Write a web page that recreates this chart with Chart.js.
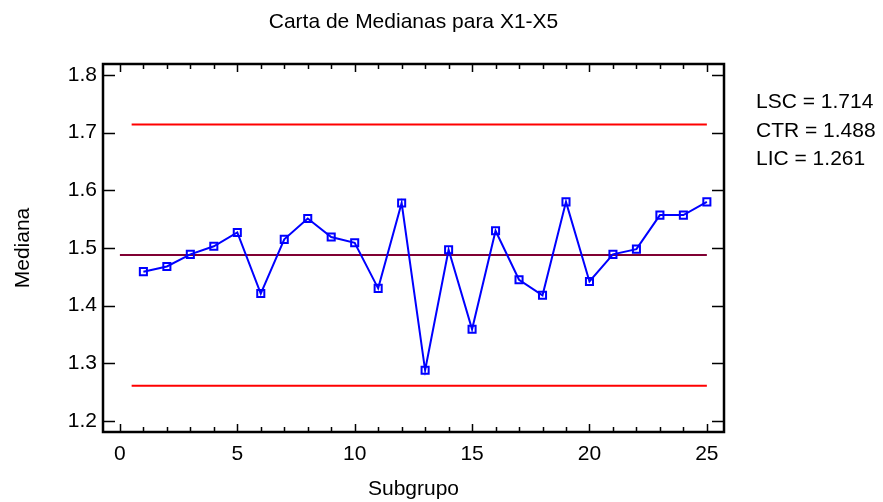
<!DOCTYPE html>
<html>
<head>
<meta charset="utf-8">
<script src="https://cdn.jsdelivr.net/npm/chart.js@4"></script>
<style>
html,body{margin:0;padding:0;background:#fff;}
#wrap{width:883px;height:502px;position:relative;}
</style>
</head>
<body>
<div id="wrap"><canvas id="c" width="883" height="502"></canvas></div>
<script>
// ---- data ----
const subgroups = [1,2,3,4,5,6,7,8,9,10,11,12,13,14,15,16,17,18,19,20,21,22,23,24,25];
const medians = [1.459,1.468,1.489,1.503,1.527,1.421,1.515,1.551,1.519,1.509,1.430,1.578,
                 1.288,1.497,1.359,1.530,1.445,1.418,1.580,1.442,1.489,1.498,1.557,1.557,1.580];
const lsc = 1.714;
const ctr = 1.488;
const lic = 1.261;
const limitStartX = [0.5, 25];
const centerStartX = [0, 25];
const xTicks = [0,5,10,15,20,25];
const xMinorTicks = [0,1,2,3,4,5,6,7,8,9,10,11,12,13,14,15,16,17,18,19,20,21,22,23,24,25];
const yTicks = [1.2,1.3,1.4,1.5,1.6,1.7,1.8];
const titleText = 'Carta de Medianas para X1-X5';
const xTitle = 'Subgrupo';
const yTitle = 'Mediana';
const legendLines = ['LSC = ' + lsc.toFixed(3), 'CTR = ' + ctr.toFixed(3), 'LIC = ' + lic.toFixed(3)];

const FONT = '"Liberation Sans", Arial, sans-serif';

const framePlugin = {
  id: 'frame',
  afterDraw(chart) {
    const ctx = chart.ctx;
    const a = chart.chartArea;
    const xs = chart.scales.x, ys = chart.scales.y;
    ctx.save();
    ctx.strokeStyle = '#000';
    // inward ticks
    ctx.lineWidth = 1.5;
    ctx.beginPath();
    xMinorTicks.forEach(v => {
      const px = Math.round(xs.getPixelForValue(v)) + 0.5;
      const major = xTicks.includes(v);
      const len = major ? 8 : 5;
      ctx.moveTo(px, a.bottom); ctx.lineTo(px, a.bottom - len);
      ctx.moveTo(px, a.top); ctx.lineTo(px, a.top + len);
    });
    yTicks.forEach(v => {
      const py = Math.round(ys.getPixelForValue(v)) + 0.5;
      ctx.moveTo(a.left, py); ctx.lineTo(a.left + 12, py);
      ctx.moveTo(a.right, py); ctx.lineTo(a.right - 12, py);
    });
    ctx.stroke();
    // frame
    ctx.lineWidth = 2.5;
    ctx.strokeRect(a.left, a.top, a.right - a.left, a.bottom - a.top);
    // texts
    ctx.fillStyle = '#000';
    ctx.font = '21px ' + FONT;
    ctx.textAlign = 'center';
    ctx.textBaseline = 'alphabetic';
    ctx.fillText(titleText, (a.left + a.right) / 2, 28);
    ctx.font = '21px ' + FONT;
    ctx.fillText(xTitle, (a.left + a.right) / 2, 495);
    ctx.save();
    ctx.translate(29, (a.top + a.bottom) / 2);
    ctx.rotate(-Math.PI / 2);
    ctx.fillText(yTitle, 0, 0);
    ctx.restore();
    ctx.textAlign = 'left';
    const baseY = [108, 137, 165];
    legendLines.forEach((t, i) => ctx.fillText(t, 756, baseY[i]));
    ctx.restore();
  }
};

new Chart(document.getElementById('c'), {
  type: 'scatter',
  data: {
    datasets: [
      {
        data: limitStartX.map(x => ({x, y: lsc})),
        showLine: true, borderColor: '#FF0000', borderWidth: 2, pointRadius: 0, order: 3
      },
      {
        data: limitStartX.map(x => ({x, y: lic})),
        showLine: true, borderColor: '#FF0000', borderWidth: 2, pointRadius: 0, order: 3
      },
      {
        data: centerStartX.map(x => ({x, y: ctr})),
        showLine: true, borderColor: '#800033', borderWidth: 2, pointRadius: 0, order: 2
      },
      {
        data: subgroups.map((s, i) => ({x: s, y: medians[i]})),
        showLine: true, borderColor: '#0000FF', borderWidth: 2,
        pointStyle: 'rect', pointRadius: 5, pointBorderWidth: 2,
        pointBorderColor: '#0000FF', pointBackgroundColor: 'rgba(255,255,255,0)',
        order: 1
      }
    ]
  },
  options: {
    responsive: false,
    animation: false,
    events: [],
    layout: { padding: { top: 64, right: 159, left: 0, bottom: 0 } },
    plugins: { legend: { display: false }, title: { display: false }, tooltip: { enabled: false } },
    scales: {
      x: {
        type: 'linear', position: 'bottom',
        min: -0.72, max: 25.73,
        afterBuildTicks: s => { s.ticks = xTicks.map(v => ({ value: v })); },
        afterFit: s => { s.height = 70; },
        grid: { display: false, drawTicks: false },
        border: { display: false },
        ticks: { color: '#000', font: { family: FONT, size: 21 }, padding: 10, maxRotation: 0, autoSkip: false }
      },
      y: {
        type: 'linear', position: 'left',
        min: 1.181, max: 1.819,
        afterBuildTicks: s => { s.ticks = yTicks.map(v => ({ value: v })); },
        afterFit: s => { s.width = 103; },
        grid: { display: false, drawTicks: false },
        border: { display: false },
        ticks: { color: '#000', font: { family: FONT, size: 21 }, padding: 6, callback: v => Number(v).toFixed(1), autoSkip: false }
      }
    }
  },
  plugins: [framePlugin]
});
</script>
</body>
</html>
